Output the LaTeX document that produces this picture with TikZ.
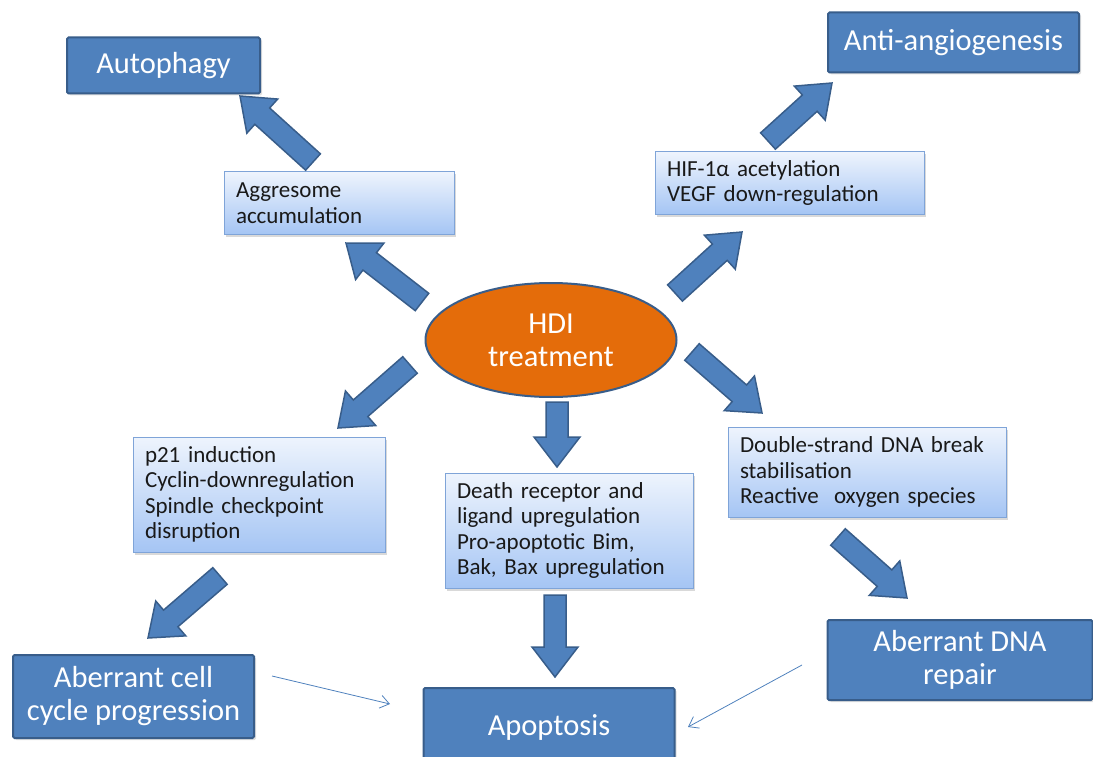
\documentclass[tikz,border=0pt]{standalone}
\usepackage{fontspec}
\setmainfont{Carlito}
\usetikzlibrary{calc,shadows,arrows.meta,shapes.geometric}
\definecolor{dblue}{HTML}{4F81BD}
\definecolor{dborder}{HTML}{385D8A}
\definecolor{ltop}{HTML}{EEF4FD}
\definecolor{lbot}{HTML}{A5C5F4}
\definecolor{lborder}{HTML}{7FA4D8}
\definecolor{hdiorange}{HTML}{E46C0A}
\newcommand\blockarr[2]{%
  \coordinate (hb) at ($(#2)!30pt!(#1)$);
  \path[blkarrow] ($(#1)!11pt!90:(#2)$) -- ($(hb)!11pt!-90:(#1)$) -- ($(hb)!23pt!-90:(#1)$) -- (#2)
    -- ($(hb)!23pt!90:(#1)$) -- ($(hb)!11pt!90:(#1)$) -- ($(#1)!11pt!-90:(#2)$) -- cycle;}
\tikzset{
  dbox/.style={draw=dborder, fill=dblue, line width=2pt, rounded corners=1.5pt, text=white,
    align=center, font=\fontsize{30.5}{33}\selectfont, inner sep=0pt,
    drop shadow={opacity=0.25, shadow xshift=2pt, shadow yshift=-2pt}},
  lbox/.style={draw=lborder, line width=1pt, top color=ltop, bottom color=lbot, text=black!90,
    align=left, font=\fontsize{23}{25.5}\selectfont, inner xsep=12pt, inner ysep=0pt,
    drop shadow={opacity=0.3, shadow xshift=2pt, shadow yshift=-2.5pt}},
  blkarrow/.style={draw=dborder, fill=dblue, line width=1.5pt, line join=miter},
  thinarr/.style={draw=dblue, line width=0.8pt, -{Straight Barb[length=9pt,width=13pt]}},
}
\begin{document}
\begin{tikzpicture}[x=1pt,y=-1pt]
\useasboundingbox (0,0) rectangle (1093,757);
\clip (0,0) rectangle (1093,757);
% dark boxes
\node[dbox, minimum width=193, minimum height=56] (auto) at (163.5,65.5) {Autophagy};
\node[dbox, minimum width=251, minimum height=60] (anti) at (953.5,42.5) {Anti-angiogenesis};
\node[dbox, minimum width=241, minimum height=83] (cyc) at (133.5,696.5) {Aberrant cell\\cycle progression};
\node[dbox, minimum width=251, minimum height=78] (apop) at (549,727) {Apoptosis};
\node[dbox, minimum width=265, minimum height=80] (dna) at (960,660) {Aberrant DNA\\repair};
% light boxes
\node[lbox, minimum width=230, minimum height=62, text width=206] (aggr) at (339,203) {Aggresome\\accumulation};
\node[lbox, minimum width=269, minimum height=62, text width=245] (hif) at (789.5,183) {HIF-1α acetylation\\VEGF down-regulation};
\node[lbox, minimum width=252, minimum height=115, text width=228] (p21) at (259,494.5) {p21 induction\\Cyclin-downregulation\\Spindle checkpoint\\disruption};
\node[lbox, minimum width=248, minimum height=115, text width=224] (death) at (569,530.5) {Death receptor and\\ligand upregulation\\Pro-apoptotic Bim,\\Bak, Bax upregulation};
\node[lbox, minimum width=278, minimum height=90, text width=254] (dsb) at (867,472) {Double-strand DNA break\\stabilisation\\Reactive\ \ oxygen species};
% ellipse
\node[ellipse, draw=dborder, fill=hdiorange, line width=2pt, minimum width=251, minimum height=114,
  text=white, align=center, font=\fontsize{30.5}{33}\selectfont, inner sep=0pt] (hdi) at (551,340) {HDI\\treatment};
% block arrow endpoints
\coordinate (a1t) at (422,302); \coordinate (a1h) at (346,243);
\coordinate (a2t) at (313,162); \coordinate (a2h) at (240,96);
\coordinate (a3t) at (675,293); \coordinate (a3h) at (742,232);
\coordinate (a4t) at (768,141); \coordinate (a4h) at (832,83);
\coordinate (a5t) at (410,365); \coordinate (a5h) at (338,428);
\coordinate (a6t) at (557,402); \coordinate (a6h) at (557,467);
\coordinate (a7t) at (692,352); \coordinate (a7h) at (762,413);
\coordinate (a8t) at (220,576); \coordinate (a8h) at (148,638);
\coordinate (a9t) at (555,595); \coordinate (a9h) at (555,677);
\coordinate (a10t) at (838,537); \coordinate (a10h) at (907,598);
\blockarr{a1t}{a1h}
\blockarr{a2t}{a2h}
\blockarr{a3t}{a3h}
\blockarr{a4t}{a4h}
\blockarr{a5t}{a5h}
\blockarr{a6t}{a6h}
\blockarr{a7t}{a7h}
\blockarr{a8t}{a8h}
\blockarr{a9t}{a9h}
\blockarr{a10t}{a10h}
% thin arrows
\coordinate (t1s) at (272,676); \coordinate (t1e) at (390,704);
\coordinate (t2s) at (802,665); \coordinate (t2e) at (688,727);
\draw[thinarr] (t1s) -- (t1e);
\draw[thinarr] (t2s) -- (t2e);
\end{tikzpicture}
\end{document}
